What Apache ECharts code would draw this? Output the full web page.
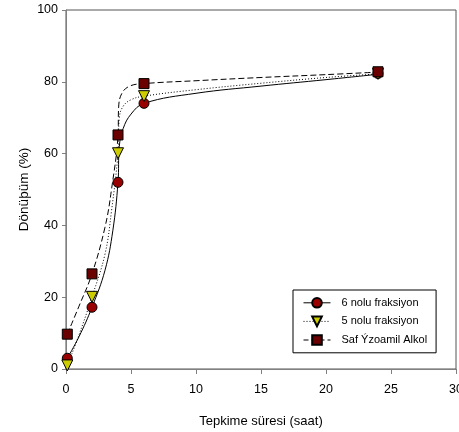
<!DOCTYPE html>
<html>
<head>
<meta charset="utf-8">
<script src="https://cdn.jsdelivr.net/npm/echarts@6/dist/echarts.min.js"></script>
<style>html,body{margin:0;padding:0;background:#fff}#c{width:459px;height:432px}</style>
</head>
<body>
<div id="c"></div>
<script>
// Measured points (x = reaction time in hours, y = conversion %)
var timeHours = [0.1, 2, 4, 6, 24];
var frac6 = [3, 17.2, 52, 74, 82.3];
var frac5 = [1, 20.1, 60.1, 76, 82.2];
var pureAlc = [9.7, 26.5, 65.2, 79.5, 82.8];

// Fitted curves
var curveX6 = [0.1, 1, 2, 3, 3.6, 4, 4.1, 4.4, 5, 6, 10, 15, 20, 24];
var curveY6 = [3, 9, 17.2, 27.5, 38.5, 52, 62, 67, 71, 74, 76.8, 78.8, 80.6, 82.1];
var curveX5 = [0.1, 1, 2, 3, 3.5, 4, 4.1, 4.4, 5, 6, 10, 15, 20, 24];
var curveY5 = [1, 9.5, 20.1, 32, 44, 60.1, 70, 73.2, 75, 76, 77.8, 79.6, 81.2, 82.2];
var curveXA = [0.1, 1, 2, 3, 3.5, 4, 4.05, 4.3, 4.9, 6, 10, 15, 20, 24];
var curveYA = [9.7, 17.5, 26.5, 39.5, 50, 65.2, 73, 76.8, 78.8, 79.5, 80.3, 81.2, 82, 82.7];

var seriesNames = ['6 nolu fraksiyon', '5 nolu fraksiyon', 'Saf Ýzoamil Alkol'];
var xTitle = 'Tepkime süresi (saat)';
var yTitle = 'Dönüþüm (%)';

function pairs(xs, ys) { return xs.map(function (x, i) { return [x, ys[i]]; }); }

var sans = "'Liberation Sans',Arial,sans-serif";

function curve(xs, ys, type) {
  return {
    type: 'line', data: pairs(xs, ys), showSymbol: false, symbol: 'none',
    smooth: 0.4, silent: true, z: 2,
    lineStyle: { color: '#000', width: 1, type: type }
  };
}
function markers(name, ys, symbol, color, rotate) {
  return {
    name: name, type: 'line', data: pairs(timeHours, ys), symbol: symbol,
    symbolSize: symbol === 'triangle' ? 11 : 10, symbolRotate: rotate || 0, z: 5,
    lineStyle: { width: 0, opacity: 0 },
    itemStyle: { color: color, borderColor: '#000', borderWidth: 1 }
  };
}

var chart = echarts.init(document.getElementById('c'), null, { renderer: 'canvas' });
chart.setOption({
  animation: false,
  backgroundColor: '#fff',
  grid: { left: 66, right: 3, top: 10, bottom: 63, show: true, borderColor: '#555', borderWidth: 1,
          containLabel: false, outerBoundsMode: 'none' },
  xAxis: {
    type: 'value', min: 0, max: 30, interval: 5,
    name: xTitle, nameLocation: 'middle', nameGap: 46, nameMoveOverlap: false,
    nameTextStyle: { fontFamily: sans, fontSize: 13, color: '#000' },
    axisLine: { lineStyle: { color: '#808080' } },
    axisTick: { length: 5, lineStyle: { color: '#808080' } },
    axisLabel: { margin: 14, fontFamily: sans, fontSize: 12.5, color: '#000', hideOverlap: false },
    splitLine: { show: false }
  },
  yAxis: {
    type: 'value', min: 0, max: 100, interval: 20,
    name: yTitle, nameLocation: 'middle', nameGap: 35, nameMoveOverlap: false,
    nameTextStyle: { fontFamily: sans, fontSize: 13.5, color: '#000' },
    axisLine: { show: true, lineStyle: { color: '#808080' } },
    axisTick: { show: true, length: 4, lineStyle: { color: '#808080' } },
    axisLabel: { margin: 8, fontFamily: sans, fontSize: 12.5, color: '#000' },
    splitLine: { show: false }
  },
  legend: {
    orient: 'vertical', left: 293, top: 290,
    backgroundColor: '#fff', borderColor: '#000', borderWidth: 1,
    padding: [7, 9, 7, 10], itemGap: 7, itemWidth: 27, itemHeight: 12,
    textStyle: { fontFamily: sans, fontSize: 11, color: '#000', padding: [0, 0, 0, 6] },
    data: [
      { name: seriesNames[0], lineStyle: { width: 1, type: 'solid', color: '#000', opacity: 1 } },
      { name: seriesNames[1], lineStyle: { width: 1, type: [1, 2], color: '#000', opacity: 1 } },
      { name: seriesNames[2], lineStyle: { width: 1, type: [5, 3], color: '#000', opacity: 1 } }
    ]
  },
  series: [
    curve(curveX6, curveY6, 'solid'),
    curve(curveX5, curveY5, [1, 2]),
    curve(curveXA, curveYA, [6, 3]),
    markers(seriesNames[0], frac6, 'circle', '#990000'),
    markers(seriesNames[1], frac5, 'triangle', '#CCCC00', 180),
    markers(seriesNames[2], pureAlc, 'rect', '#6B0000')
  ]
});
</script>
</body>
</html>
